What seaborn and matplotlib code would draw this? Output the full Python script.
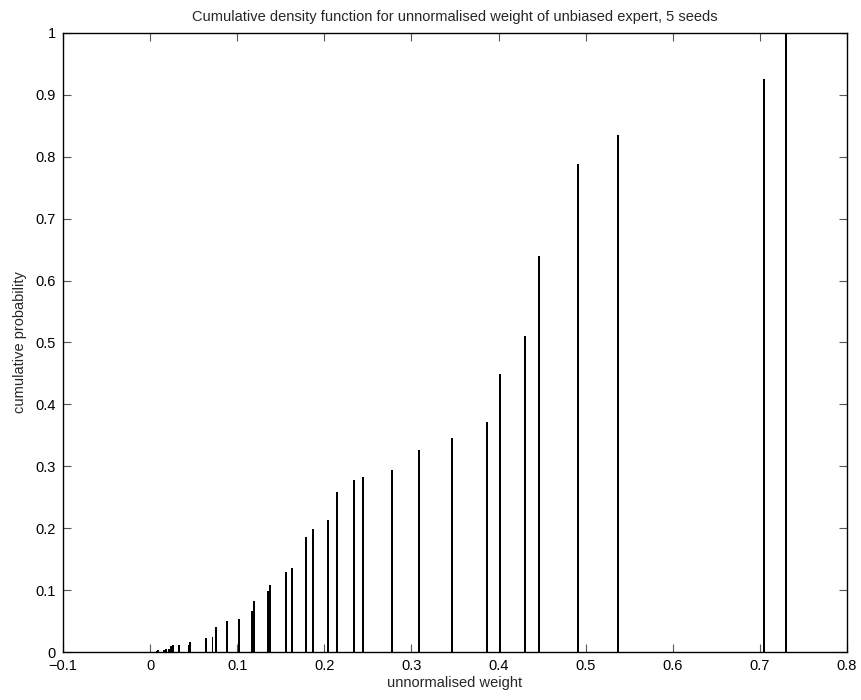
import matplotlib
matplotlib.use("Agg")
import matplotlib.pyplot as plt
import seaborn as sns
import pandas as pd
from matplotlib.ticker import FuncFormatter, MultipleLocator

# Data
weights = [0.0075, 0.0095, 0.0156, 0.0183, 0.0220, 0.0236, 0.0260, 0.0328,
           0.0443, 0.0455, 0.0645, 0.0716, 0.0755, 0.0879, 0.1024, 0.1166,
           0.1189, 0.1350, 0.1373, 0.1557, 0.1633, 0.1790, 0.1874, 0.2046,
           0.2142, 0.2337, 0.2444, 0.2774, 0.3084, 0.3466, 0.3872, 0.4020,
           0.4304, 0.4460, 0.4912, 0.5370, 0.7045, 0.7297]
cum_prob = [0.002, 0.003, 0.004, 0.005, 0.005, 0.0097, 0.0108, 0.0113,
            0.012, 0.0167, 0.0226, 0.024, 0.040, 0.0495, 0.054, 0.067,
            0.082, 0.099, 0.108, 0.129, 0.136, 0.186, 0.198, 0.213,
            0.258, 0.278, 0.282, 0.294, 0.326, 0.345, 0.371, 0.449,
            0.511, 0.639, 0.788, 0.835, 0.925, 1.000]

title = "Cumulative density function for unnormalised weight of unbiased expert, 5 seeds"
x_label = "unnormalised weight"
y_label = "cumulative probability"

df = pd.DataFrame({"w": weights, "p": cum_prob})

sns.set_theme(style="ticks")
plt.rcParams["font.family"] = ["Liberation Sans", "DejaVu Sans"]
plt.rcParams["axes.unicode_minus"] = True

fig = plt.figure(figsize=(8.62, 7.00), dpi=100)
ax = fig.add_axes([63 / 862, 48 / 700, 784 / 862, 619 / 700])

sns.barplot(data=df, x="w", y="p", native_scale=True, color="black",
            saturation=1, ax=ax, errorbar=None)

bar_w = 0.0021
for patch in ax.patches:
    cx = patch.get_x() + patch.get_width() / 2
    patch.set_width(bar_w)
    patch.set_x(cx - bar_w / 2)
    patch.set_facecolor("black")
    patch.set_edgecolor("#000033")
    patch.set_linewidth(0.0)

ax.set_xlim(-0.1, 0.8)
ax.set_ylim(0, 1)
ax.xaxis.set_major_locator(MultipleLocator(0.1))
ax.yaxis.set_major_locator(MultipleLocator(0.1))

def fmt(v, pos):
    s = f"{v:.1f}"
    if abs(v) < 1e-9:
        return "0"
    if abs(v - 1) < 1e-9:
        return "1"
    return s.replace("-", "\u2212")

ax.xaxis.set_major_formatter(FuncFormatter(fmt))
ax.yaxis.set_major_formatter(FuncFormatter(fmt))

ax.tick_params(axis="both", which="major", direction="in", length=5.8,
               width=0.8, color="#555555", labelsize=10.5, labelcolor="black",
               top=True, right=True, pad=5)
for sp in ax.spines.values():
    sp.set_visible(True)
    sp.set_color("black")
    sp.set_linewidth(1.0)

ax.set_title(title, fontsize=10.5, pad=9)
ax.set_xlabel(x_label, fontsize=10.5, labelpad=2)
ax.set_ylabel(y_label, fontsize=10.5, labelpad=6)
ax.grid(False)

fig.savefig("out.png", dpi=100, facecolor="white")
